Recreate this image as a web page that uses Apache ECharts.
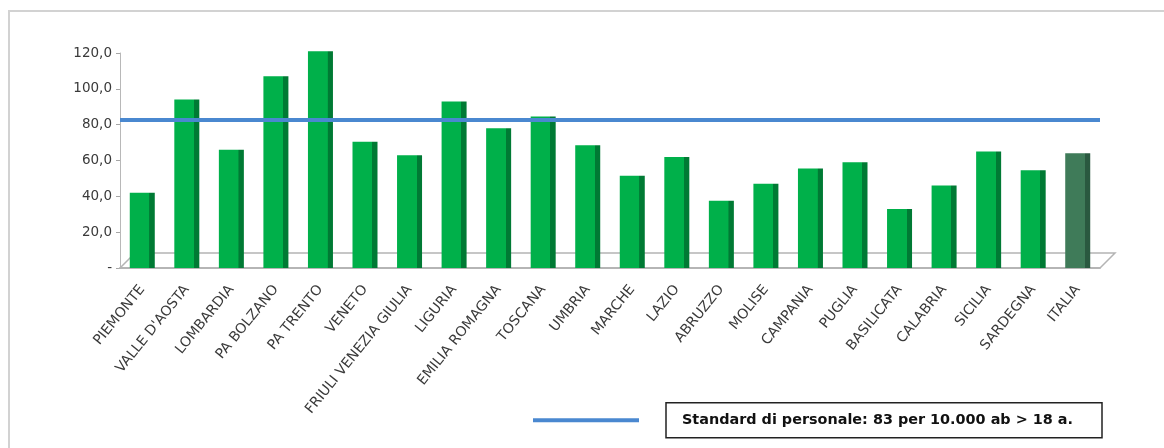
<!DOCTYPE html>
<html>
<head>
<meta charset="utf-8">
<script src="https://cdn.jsdelivr.net/npm/echarts@6/dist/echarts.min.js"></script>
<style>
  html, body { margin: 0; padding: 0; background: #fff; overflow: hidden; }
  #frame { position: absolute; left: 8px; top: 10px; width: 1200px; height: 500px;
           border: 2px solid #d2d2d2; box-sizing: border-box; }
  #chart { position: absolute; left: 0; top: 0; width: 1164px; height: 448px; }
</style>
</head>
<body>
<div id="frame"></div>
<div id="chart"></div>
<script>
// Personale per 10.000 abitanti > 18 anni, per regione
const regions = ['PIEMONTE', "VALLE D'AOSTA", 'LOMBARDIA', 'PA BOLZANO', 'PA TRENTO', 'VENETO',
  'FRIULI VENEZIA GIULIA', 'LIGURIA', 'EMILIA ROMAGNA', 'TOSCANA', 'UMBRIA', 'MARCHE', 'LAZIO',
  'ABRUZZO', 'MOLISE', 'CAMPANIA', 'PUGLIA', 'BASILICATA', 'CALABRIA', 'SICILIA', 'SARDEGNA', 'ITALIA'];
const staffRate = [42, 94, 66, 107, 121, 70.5, 63, 93, 78, 84.5, 68.5, 51.5, 62,
  37.5, 47, 55.5, 59, 33, 46, 65, 54.5, 64];
const standardRate = 83;
const standardLabel = 'Standard di personale: 83 per 10.000 ab > 18 a.';
const yMin = 0, yMax = 120, yStep = 20;

function barGradient(front, side) {
  return new echarts.graphic.LinearGradient(0, 0, 1, 0, [
    { offset: 0, color: front }, { offset: 0.78, color: front },
    { offset: 0.79, color: side }, { offset: 1, color: side }
  ]);
}

const barData = staffRate.map((v, i) => ({
  value: v,
  itemStyle: { color: regions[i] === 'ITALIA'
    ? barGradient('#3f7b59', '#2a5940')
    : barGradient('#00b04a', '#007a34') }
}));

const chart = echarts.init(document.getElementById('chart'));
const grid = { left: 120, right: 64, top: 53, bottom: 180 };
chart.setOption({
  animation: false,
  textStyle: { fontFamily: 'DejaVu Sans, Arial, sans-serif' },
  grid: grid,
  xAxis: {
    type: 'category',
    data: regions,
    axisLine: { lineStyle: { color: '#a6a6a6', width: 1.5 } },
    axisTick: { lineStyle: { color: '#a6a6a6' }, length: 4 },
    axisLabel: { rotate: 51, interval: 0, margin: 19, color: '#3a3a3a', fontSize: 14 }
  },
  yAxis: {
    type: 'value', min: yMin, max: yMax, interval: yStep,
    axisLine: { show: true, lineStyle: { color: '#b8b8b8' } },
    axisTick: { show: true, inside: false, length: 4, lineStyle: { color: '#a6a6a6' } },
    splitLine: { show: false },
    axisLabel: {
      color: '#3a3a3a', fontSize: 13.5, margin: 8,
      formatter: v => v === 0 ? '-' : v.toFixed(1).replace('.', ',')
    }
  },
  legend: {
    data: [{ name: standardLabel }],
    left: 528, top: 397,
    icon: 'rect', itemWidth: 106, itemHeight: 4,
    formatter: name => '{gap|}{box|' + name + '}',
    textStyle: {
      rich: {
        gap: { width: 22 },
        box: { fontSize: 14.4, fontWeight: 'bold', color: '#111',
               fontFamily: 'DejaVu Sans, Arial, sans-serif',
               borderColor: '#222', borderWidth: 1.5,
               padding: [11, 16, 10, 16], width: 404 }
      }
    }
  },
  series: [
    {
      type: 'bar', data: barData, barWidth: 25, clip: false, z: 3
    },
    {
      name: standardLabel, type: 'line', data: [],
      itemStyle: { color: '#4a88d0' },
      lineStyle: { color: '#4a88d0', width: 4 },
      markLine: {
        silent: true, symbol: 'none', z: 5,
        label: { show: false },
        lineStyle: { color: '#4a88d0', width: 4, type: 'solid' },
        data: [{ yAxis: standardRate }]
      }
    }
  ]
});

// Floor of the plot, drawn from the axis extent
const p0 = chart.convertToPixel({ xAxisIndex: 0, yAxisIndex: 0 }, [0, yMin]);
const x0 = grid.left, x1 = 1164 - grid.right, y0 = p0[1], d = 15;
chart.setOption({
  graphic: [{
    type: 'polygon', z: 1, silent: true,
    shape: { points: [[x0, y0], [x0 + d, y0 - d], [x1 + d, y0 - d], [x1, y0]] },
    style: { fill: 'rgba(0,0,0,0)', stroke: '#b4b4b4', lineWidth: 1.5 }
  }]
});
</script>
</body>
</html>
